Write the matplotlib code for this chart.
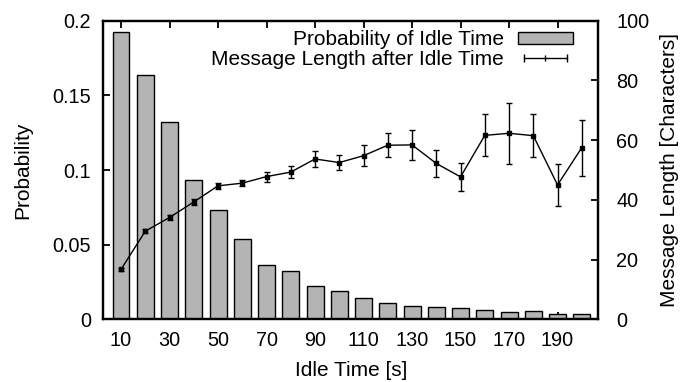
import matplotlib
matplotlib.use("Agg")
import matplotlib.pyplot as plt
from matplotlib.lines import Line2D
from matplotlib.legend_handler import HandlerLine2D, HandlerTuple
import numpy as np

plt.rcParams['font.family'] = ['Liberation Sans', 'DejaVu Sans']

idle_times = [10, 20, 30, 40, 50, 60, 70, 80, 90, 100,
              110, 120, 130, 140, 150, 160, 170, 180, 190, 200]
probability = [0.1924, 0.1636, 0.132, 0.0931, 0.073, 0.0539, 0.0367, 0.0322, 0.0226, 0.0188,
               0.0146, 0.0112, 0.0089, 0.0081, 0.0078, 0.0063, 0.0047, 0.0054, 0.0034, 0.0034]
msg_length = [16.7, 29.5, 34.1, 39.3, 44.7, 45.6, 47.8, 49.3, 53.7, 52.5,
              54.8, 58.3, 58.4, 52.2, 47.7, 61.6, 62.3, 61.5, 45.0, 57.5]
msg_err = [0.5, 0.6, 0.7, 0.9, 1.1, 1.1, 1.7, 1.9, 2.7, 2.6,
           3.5, 4.1, 5.1, 4.6, 4.7, 7.0, 10.3, 7.3, 6.9, 9.4]
xtick_labels = ['10', '30', '50', '70', '90', '110', '130', '150', '170', '190']

FS_TICK = 14.3
FS_LAB = 15.0
FS_LEG = 15.0
fig = plt.figure(figsize=(6.97, 3.82), dpi=100)
ax = fig.add_axes([0.1482, 0.1641, 0.8584 - 0.1482, 0.9458 - 0.1641])
ax2 = ax.twinx()

x = np.arange(len(idle_times))
bars = ax.bar(x, probability, width=0.7, color='#b4b4b4', edgecolor='black', linewidth=1.0, zorder=2)

ax2.errorbar(x, msg_length, yerr=msg_err, color='black', linewidth=1.0,
             elinewidth=1.0, capsize=2.2, capthick=1.0,
             marker='s', markersize=2.6, zorder=3)

ax.set_xlim(-0.73, 19.68)
ax.set_ylim(0, 0.2)
ax2.set_ylim(0, 100)

tick_pos = [idle_times.index(int(t)) for t in xtick_labels]
ax.set_xticks(tick_pos)
ax.set_xticklabels(xtick_labels, fontsize=FS_TICK)
ax.set_yticks([0, 0.05, 0.1, 0.15, 0.2])
ax.set_yticklabels(['0', '0.05', '0.1', '0.15', '0.2'], fontsize=FS_TICK)
ax2.set_yticks([0, 20, 40, 60, 80, 100])
ax2.set_yticklabels(['0', '20', '40', '60', '80', '100'], fontsize=FS_TICK)

ax.tick_params(axis='x', direction='in', top=True, bottom=True, length=5, width=1.3, pad=8.5)
ax.tick_params(axis='y', direction='in', left=True, right=False, length=5, width=1.3, pad=9)
ax2.tick_params(axis='y', direction='in', right=True, length=5, width=1.3, pad=13)

for a in (ax, ax2):
    for s in a.spines.values():
        s.set_linewidth(1.6)

ax.set_xlabel('Idle Time [s]', fontsize=FS_LAB)
ax.set_ylabel('Probability', fontsize=FS_LAB)
ax2.set_ylabel('Message Length [Characters]', fontsize=FS_LAB)
ax.xaxis.set_label_coords(0.5, -0.138)
ax.yaxis.set_label_coords(-0.1426, 0.5)
ax2.yaxis.set_label_coords(1.1247, 0.5)

# legend proxies (gnuplot-style samples)
caps = Line2D([0, 1], [0, 0], color='black', linewidth=1.0, marker='|', markersize=6, markeredgewidth=1.0)
pt = Line2D([0], [0], color='black', linewidth=0, marker='|', markersize=4, markeredgewidth=1.0)
leg = ax2.legend([bars, (caps, pt)],
                 ['Probability of Idle Time', 'Message Length after Idle Time'],
                 handler_map={caps: HandlerLine2D(numpoints=2), pt: HandlerLine2D(numpoints=1),
                              tuple: HandlerTuple(ndivide=1)},
                 loc='upper right', bbox_to_anchor=(0.949, 0.968), frameon=False,
                 markerfirst=False, fontsize=FS_LEG, handlelength=2.65, handleheight=0.48,
                 handletextpad=0.67, labelspacing=0.02, borderpad=0, borderaxespad=0)

fig.savefig('out.png', dpi=100)
